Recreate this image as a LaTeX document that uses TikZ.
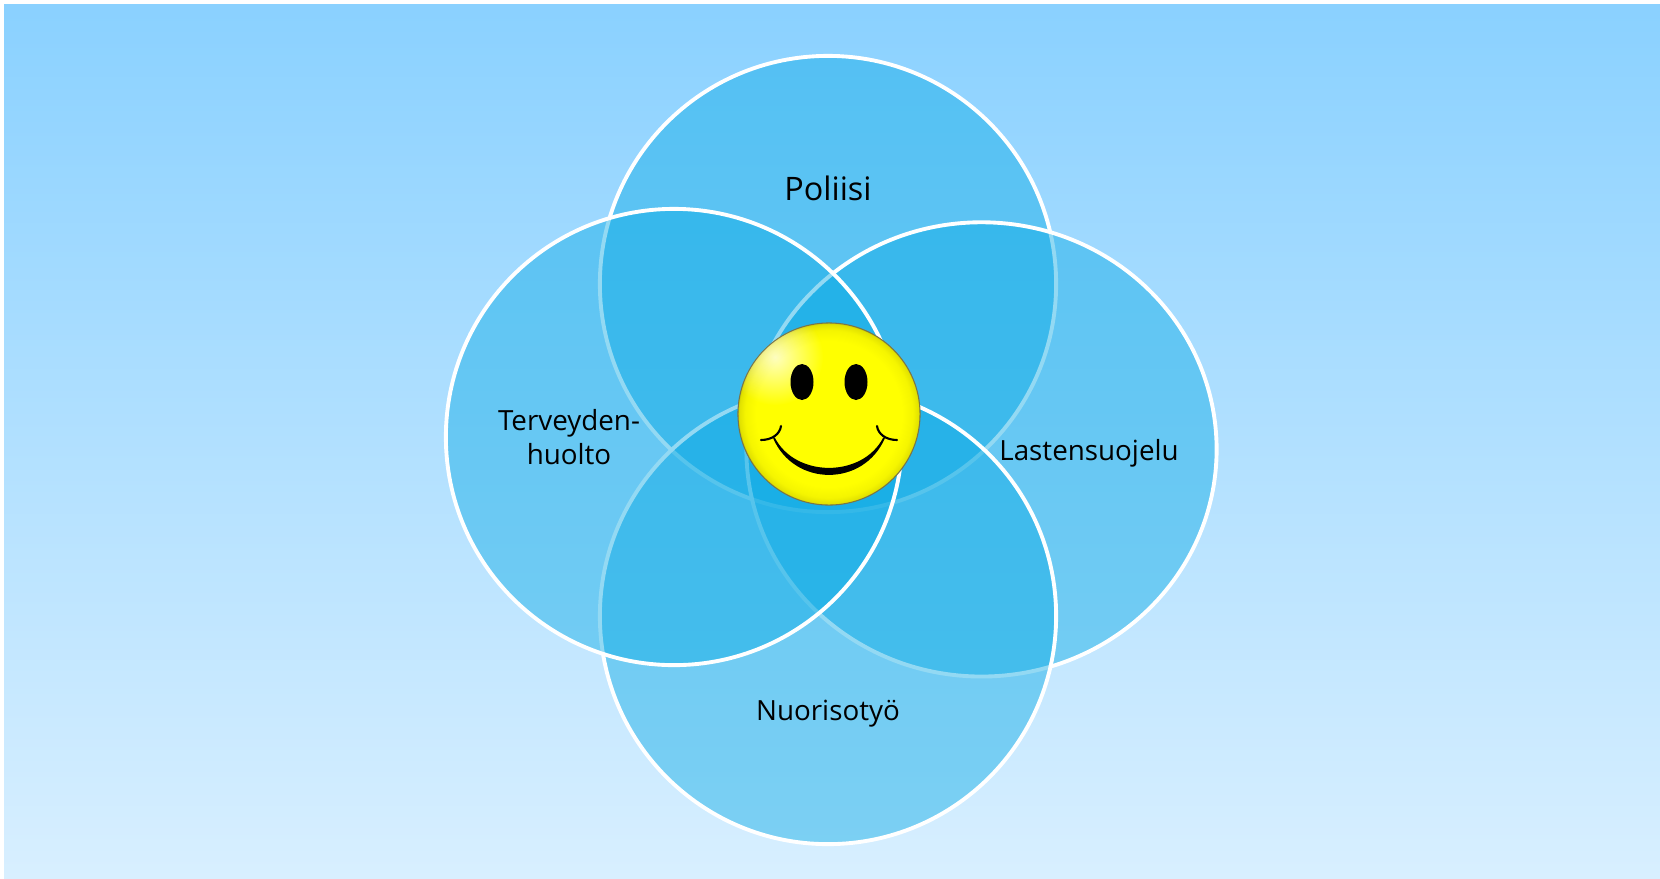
\documentclass[tikz,border=0pt]{standalone}
\usepackage{fontspec}
\setmainfont{Open Sans}
\usetikzlibrary{fadings,shapes.geometric}
\pgfdeclareradialshading{hymyshade}{\pgfpoint{0bp}{0bp}}{color(0bp)=(yellow); color(20bp)=(yellow); color(23bp)=(yellow!96!black); color(24.7bp)=(yellow!88!black); color(25bp)=(yellow!80!black); color(50bp)=(yellow!80!black)}
\tikzfading[name=valo, inner color=transparent!25, outer color=transparent!100]
\definecolor{taustaylos}{HTML}{8AD1FF}
\definecolor{taustaalas}{HTML}{D8EFFF}
\definecolor{ympyra}{RGB}{10,170,228}
\tikzset{
  ala/.style={ellipse, minimum width=4.56cm, minimum height=4.56cm, inner sep=0, outer sep=0, draw=white, line width=1.1pt, fill=ympyra, fill opacity=0.44},
  nimi/.style={font=\fontsize{7.9}{9.7}\selectfont, align=center, text=black, inner sep=0},
  hymy/.style={circle, minimum size=1.82cm, inner sep=0, outer sep=0, shading=hymyshade, draw=black!60!yellow, line width=0.3pt},
}
\begin{document}
\begin{tikzpicture}[x=0.01cm,y=-0.01cm]
\fill[white] (0,0) rectangle (1660,878);
% Tausta
\shade[top color=taustaylos, bottom color=taustaalas] (4,4) rectangle (1660,878);
% Ympyrat
\node[ala] (poliisi) at (828,284) {};
\node[ala, minimum width=4.70cm, minimum height=4.54cm] (lastensuojelu) at (981.5,449.4) {};
\node[ala] (nuorisotyo) at (828,616) {};
\node[ala] (terveys) at (674,437) {};
% Tekstit
\node[nimi, font=\fontsize{9.2}{12}\selectfont] (tpoliisi) at (828,188) {Poliisi};
\node[nimi] (tterveys) at (569,437) {Terveyden-\\huolto};
\node[nimi] (tlasten) at (1089,453) {Lastensuojelu};
\node[nimi] (tnuoriso) at (828,714) {Nuorisotyö};
% Hymio
\node[hymy] (kasvot) at (829,414) {};
\begin{scope}
\clip (829,414) circle (90.5);
\fill[white, path fading=valo] (775,357) circle (48);
\end{scope}
\fill[black] (802,382) ellipse (11.5 and 18);
\fill[black] (856,382) ellipse (11.5 and 18);
\filldraw[black, line width=0.5pt, line join=round] (774,438) .. controls (795,479) and (863,479) .. (884,438) .. controls (863,486) and (795,486) .. (774,438) -- cycle;
\draw[black, line width=0.6pt, line cap=round] (761,440) .. controls (772,440) and (780,434) .. (781,426);
\draw[black, line width=0.6pt, line cap=round] (897,440) .. controls (886,440) and (878,434) .. (877,426);
\end{tikzpicture}
\end{document}
